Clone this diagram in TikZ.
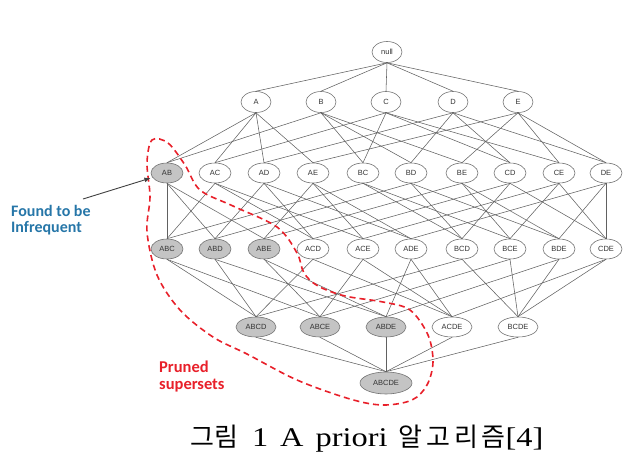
\documentclass[tikz,border=0pt]{standalone}
\usepackage{fontspec}
\usepackage{graphicx}
\setmainfont{Liberation Serif}
\newfontfamily\capserif{Liberation Serif}
\newfontfamily\arialf{Liberation Sans}
\newfontfamily\calf{Carlito}
\newfontfamily\krf{Noto Sans CJK KR}
\usetikzlibrary{shapes.geometric,arrows.meta}
\definecolor{infblue}{RGB}{38,118,168}
\definecolor{prred}{RGB}{232,32,42}
\definecolor{prfill}{RGB}{196,196,196}
\newcommand{\latw}[1]{\scalebox{1.2}[1]{\capserif\fontsize{27}{28}\selectfont #1}}
\newcommand{\korw}[1]{{\krf\fontsize{26}{28}\selectfont #1}}
\begin{document}
\begin{tikzpicture}[x=1pt,y=-1pt,
  item/.style={ellipse, draw=black!55, line width=0.6pt, fill=white, inner sep=0pt,
    font=\arialf\fontsize{7.5}{8}\selectfont, text=black!80},
  pruned/.style={item, fill=prfill},
  lv1/.style={minimum width=30pt, minimum height=21pt},
  lv2/.style={minimum width=32pt, minimum height=20pt},
  lv4/.style={minimum width=40pt, minimum height=20pt},
  lv5/.style={minimum width=52pt, minimum height=22pt},
  edge/.style={draw=black!62, line width=0.55pt},
  note/.style={font=\calf\bfseries\fontsize{16}{16}\selectfont, align=left, inner sep=0pt}]
\useasboundingbox (0,0) rectangle (641,456);
% nodes
\node[item,lv1] (null) at (387,52) {null};
\foreach \n/\x in {A/256,B/321,C/386,D/453,E/518}
  \node[item,lv1] (\n) at (\x,102) {\n};
\node[pruned,lv2] (AB) at (167,173) {AB};
\foreach \n/\x in {AC/215,AD/264,AE/313,BC/363,BD/411,BE/462,CD/510,CE/559,DE/606}
  \node[item,lv2] (\n) at (\x,173) {\n};
\foreach \n/\x in {ABC/167,ABD/215,ABE/264}
  \node[pruned,lv2] (\n) at (\x,249) {\n};
\foreach \n/\x in {ACD/313,ACE/363,ADE/411,BCD/462,BCE/510,BDE/559,CDE/606}
  \node[item,lv2] (\n) at (\x,249) {\n};
\foreach \n/\x in {ABCD/256,ABCE/320,ABDE/386}
  \node[pruned,lv4] (\n) at (\x,327) {\n};
\foreach \n/\x in {ACDE/452,BCDE/518}
  \node[item,lv4] (\n) at (\x,327) {\n};
\node[pruned,lv5] (ABCDE) at (386,383) {ABCDE};
% edges
\foreach \u/\v in {null/A,null/B,null/C,null/D,null/E,
  A/AB,A/AC,A/AD,A/AE, B/AB,B/BC,B/BD,B/BE, C/AC,C/BC,C/CD,C/CE,
  D/AD,D/BD,D/CD,D/DE, E/AE,E/BE,E/CE,E/DE,
  AB/ABC,AB/ABD,AB/ABE, AC/ABC,AC/ACD,AC/ACE, AD/ABD,AD/ACD,AD/ADE,
  AE/ABE,AE/ACE,AE/ADE, BC/ABC,BC/BCD,BC/BCE, BD/ABD,BD/BCD,BD/BDE,
  BE/ABE,BE/BCE,BE/BDE, CD/ACD,CD/BCD,CD/CDE, CE/ACE,CE/BCE,CE/CDE,
  DE/ADE,DE/BDE,DE/CDE,
  ABC/ABCD,ABC/ABCE, ABD/ABCD,ABD/ABDE, ABE/ABCE,ABE/ABDE,
  ACD/ABCD,ACD/ACDE, ACE/ABCE,ACE/ACDE, ADE/ABDE,ADE/ACDE,
  BCD/ABCD,BCD/BCDE, BCE/ABCE,BCE/BCDE, BDE/ABDE,BDE/BCDE,
  CDE/ACDE,CDE/BCDE,
  ABCD/ABCDE,ABCE/ABCDE,ABDE/ABCDE,ACDE/ABCDE,BCDE/ABCDE}
  \draw[edge] (\u.south) -- (\v.north);
% pruned region
\draw[prred, line width=1.6pt, dash pattern=on 6pt off 4pt]
  plot[smooth cycle, tension=0.55] coordinates {
  (152,140) (168,143) (185,165) (200,190) (233,206) (277,227) (297,253)
  (304,273) (318,286) (345,296) (383,302) (410,310) (428,335) (433,362)
  (427,385) (412,400) (383,405) (350,399) (297,380) (247,354) (213,337)
  (180,310) (157,275) (147,232) (150,197) (147,163)};
% labels
\node[note, text=infblue, anchor=base west] (found) at (11,232) {Found to be\\Infrequent};
\coordinate (ftail) at (83,199);
\draw[-{Latex[length=6pt,width=5pt]}, black!75, line width=0.9pt, shorten >=2pt] (ftail) -- (AB);
\node[note, text=prred, anchor=base west, font=\calf\bfseries\fontsize{16.5}{17}\selectfont] (prun) at (159,389) {Pruned\\supersets};
\node[anchor=base west, inner sep=0pt] (cap) at (190,446)
  {\korw{그림}\hspace{14pt}\latw{1}\hspace{12pt}\latw{A}\hspace{12pt}\latw{priori}\hspace{11pt}\korw{알\hspace{3.8pt}고\hspace{3.8pt}리\hspace{3.8pt}즘}\latw{[4]}};
\end{tikzpicture}
\end{document}
